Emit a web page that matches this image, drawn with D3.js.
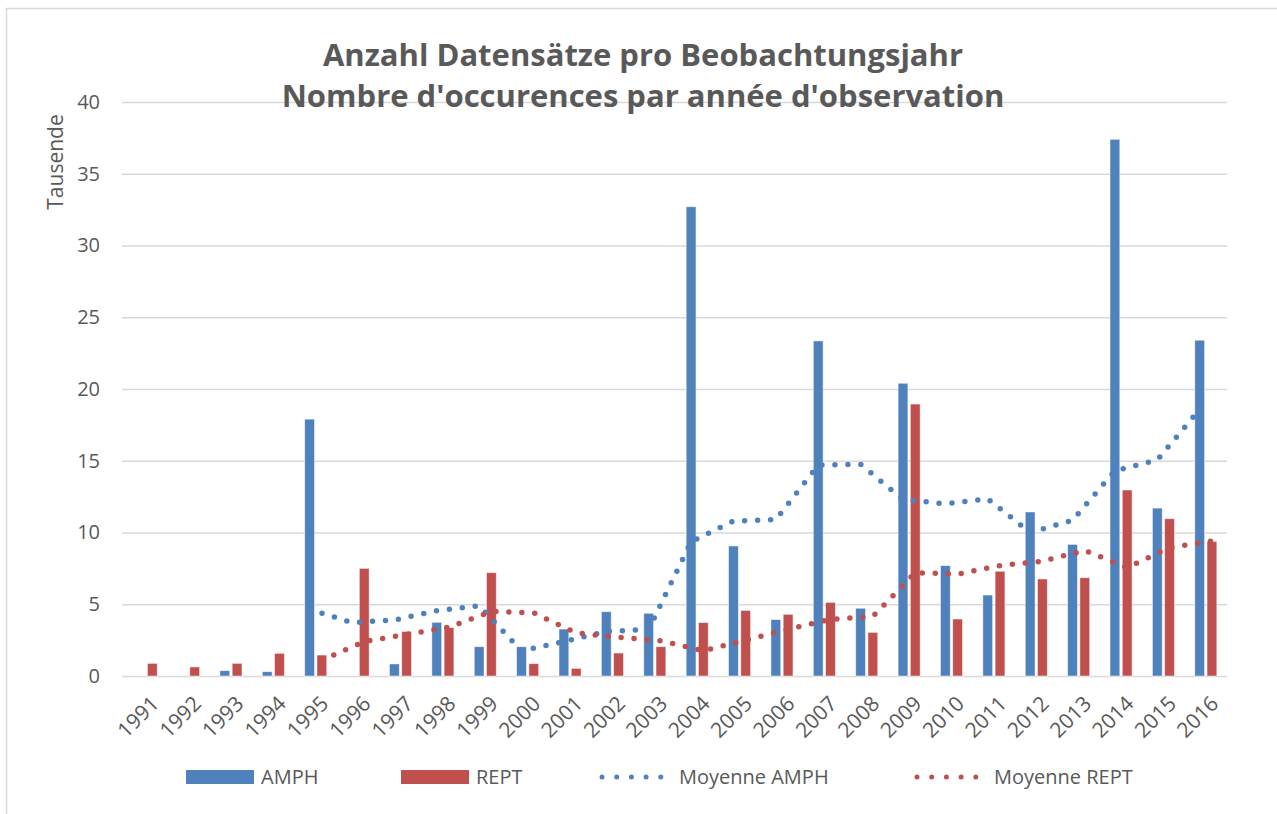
<!DOCTYPE html>
<html>
<head>
<meta charset="utf-8">
<script src="https://cdn.jsdelivr.net/npm/d3@7"></script>
<style>
  html, body { margin: 0; background: #fff; }
  svg { display: block; font-family: "Open Sans", "Noto Sans", sans-serif; }
</style>
</head>
<body>
<div id="chart"></div>
<script>
// Werte in Tausend
const years = ["1991","1992","1993","1994","1995","1996","1997","1998","1999","2000","2001","2002","2003",
  "2004","2005","2006","2007","2008","2009","2010","2011","2012","2013","2014","2015","2016"];

const amph = [null, null, 0.37, 0.3, 17.9, null, 0.84, 3.74, 2.04, 2.04, 3.27, 4.48, 4.37,
  32.7, 9.06, 3.93, 23.35, 4.72, 20.4, 7.69, 5.64, 11.43, 9.17, 37.4, 11.7, 23.4];

const rept = [0.88, 0.63, 0.88, 1.58, 1.46, 7.5, 3.1, 3.37, 7.2, 0.86, 0.53, 1.6, 2.04,
  3.72, 4.57, 4.3, 5.13, 3.04, 18.95, 3.97, 7.3, 6.76, 6.85, 12.96, 10.96, 9.38];

const moyAmph = [null, null, null, null, 4.65, 3.72, 3.9, 4.55, 4.9, 1.75, 2.4, 3.1, 3.25,
  9.35, 10.8, 10.9, 14.7, 14.75, 12.3, 12.0, 12.35, 10.0, 10.85, 14.3, 15.05, 18.6];

const moyRept = [null, null, null, null, 1.1, 2.4, 2.9, 3.4, 4.5, 4.4, 3.0, 2.7, 2.45,
  1.75, 2.5, 3.25, 3.95, 4.15, 7.2, 7.1, 7.7, 8.0, 8.75, 7.55, 8.95, 9.4];

const yTicks = [0, 5, 10, 15, 20, 25, 30, 35, 40];
const series = ["AMPH", "REPT"];
const titleLines = ["Anzahl Datensätze pro Beobachtungsjahr", "Nombre d'occurences par année d'observation"];

const colors = { AMPH: "#4f81bd", REPT: "#c0504d" };
const textColor = "#595959";
const gridColor = "#d9d9d9";

const width = 1277, height = 814;
const plot = { left: 125, right: 1227, top: 102, bottom: 676 };

const svg = d3.select("#chart").append("svg")
  .attr("width", width)
  .attr("height", height);

// Rahmen des Diagrammbereichs (rechts/unten ausserhalb des Bildes)
svg.append("rect")
  .attr("x", 6.5).attr("y", 8.5)
  .attr("width", 1400).attr("height", 1000)
  .attr("fill", "#fff")
  .attr("stroke", gridColor)
  .attr("stroke-width", 1.5);

const x0 = d3.scaleBand()
  .domain(years)
  .range([plot.left, plot.right])
  .paddingInner(0.48)
  .paddingOuter(0.24);

const x1 = d3.scaleBand()
  .domain(series)
  .range([0, x0.bandwidth()])
  .paddingInner(0.2);

const y = d3.scaleLinear()
  .domain([0, 40])
  .range([plot.bottom, plot.top]);

// Gitterlinien + Y-Achse
const yAxis = d3.axisLeft(y)
  .tickValues(yTicks)
  .tickSize(plot.right - plot.left + 3)
  .tickPadding(22);

const gy = svg.append("g")
  .attr("transform", `translate(${plot.right},0)`)
  .call(yAxis)
  .attr("font-family", null)
  .attr("font-size", null);
gy.select(".domain").remove();
gy.selectAll(".tick line").attr("stroke", gridColor).attr("stroke-width", 1.5);
gy.selectAll(".tick text")
  .attr("fill", textColor)
  .style("font-size", "20px");

// Achsentitel
svg.append("text")
  .attr("transform", "translate(63,162) rotate(-90)")
  .attr("text-anchor", "middle")
  .attr("fill", textColor)
  .style("font-size", "21px")
  .text("Tausende");

// Säulen
const rows = years.map((yr, i) => ({ year: yr, AMPH: amph[i], REPT: rept[i] }));

const groups = svg.append("g")
  .selectAll("g")
  .data(rows)
  .join("g")
  .attr("transform", (d) => `translate(${x0(d.year)},0)`);

groups.selectAll("rect")
  .data((d) => series.map((s) => ({ key: s, value: d[s] })).filter((v) => v.value != null))
  .join("rect")
  .attr("x", (d) => x1(d.key))
  .attr("y", (d) => y(d.value))
  .attr("width", x1.bandwidth())
  .attr("height", (d) => y(0) - y(d.value))
  .attr("fill", (d) => colors[d.key])
  .attr("stroke", "#fff")
  .attr("stroke-opacity", 0.6)
  .attr("stroke-width", 0.8);

// X-Achse
const xAxis = d3.axisBottom(x0).tickSize(0).tickPadding(0);
const gx = svg.append("g")
  .attr("transform", `translate(0,${plot.bottom})`)
  .call(xAxis)
  .attr("font-family", null)
  .attr("font-size", null);
gx.select(".domain").remove();
gx.selectAll(".tick text")
  .attr("fill", textColor)
  .style("font-size", "21px")
  .attr("text-anchor", "end")
  .attr("dy", null)
  .attr("y", null)
  .attr("transform", "translate(14,29) rotate(-45)");

// Gleitende Mittelwerte (gepunktet), an der Säulenmitte der Serie
function trendLine(values, key) {
  const pts = years.map((yr, i) => ({ year: yr, v: values[i] })).filter((p) => p.v != null);
  const line = d3.line()
    .x((p) => x0(p.year) + x1(key) + x1.bandwidth() / 2)
    .y((p) => y(p.v));
  svg.append("path")
    .datum(pts)
    .attr("d", line)
    .attr("fill", "none")
    .attr("stroke", colors[key])
    .attr("stroke-width", 5.5)
    .attr("stroke-linecap", "round")
    .attr("stroke-dasharray", "0 13");
}
trendLine(moyAmph, "AMPH");
trendLine(moyRept, "REPT");

// Titel
const title = svg.append("text")
  .attr("text-anchor", "middle")
  .attr("fill", textColor)
  .style("font-size", "31px")
  .style("font-weight", "bold");
title.selectAll("tspan")
  .data(titleLines)
  .join("tspan")
  .attr("x", 643)
  .attr("y", (d, i) => 66 + i * 41)
  .text((d) => d);

// Legende
const legendItems = [
  { label: "AMPH", type: "bar", key: "AMPH", x: 186 },
  { label: "REPT", type: "bar", key: "REPT", x: 401 },
  { label: "Moyenne AMPH", type: "dots", key: "AMPH", x: 602 },
  { label: "Moyenne REPT", type: "dots", key: "REPT", x: 917 }
];
const legend = svg.append("g").attr("transform", "translate(0,777)");
const li = legend.selectAll("g").data(legendItems).join("g")
  .attr("transform", (d) => `translate(${d.x},0)`);
li.filter((d) => d.type === "bar").append("rect")
  .attr("x", 0).attr("y", -7)
  .attr("width", 68).attr("height", 14)
  .attr("fill", (d) => colors[d.key]);
li.filter((d) => d.type === "dots").append("line")
  .attr("x1", 0).attr("x2", 60)
  .attr("stroke", (d) => colors[d.key])
  .attr("stroke-width", 5)
  .attr("stroke-linecap", "round")
  .attr("stroke-dasharray", "0 14.7");
li.append("text")
  .attr("x", (d) => (d.type === "bar" ? 75 : 77))
  .attr("y", 0)
  .attr("dy", "0.35em")
  .attr("fill", textColor)
  .style("font-size", "20px")
  .text((d) => d.label);
</script>
</body>
</html>
